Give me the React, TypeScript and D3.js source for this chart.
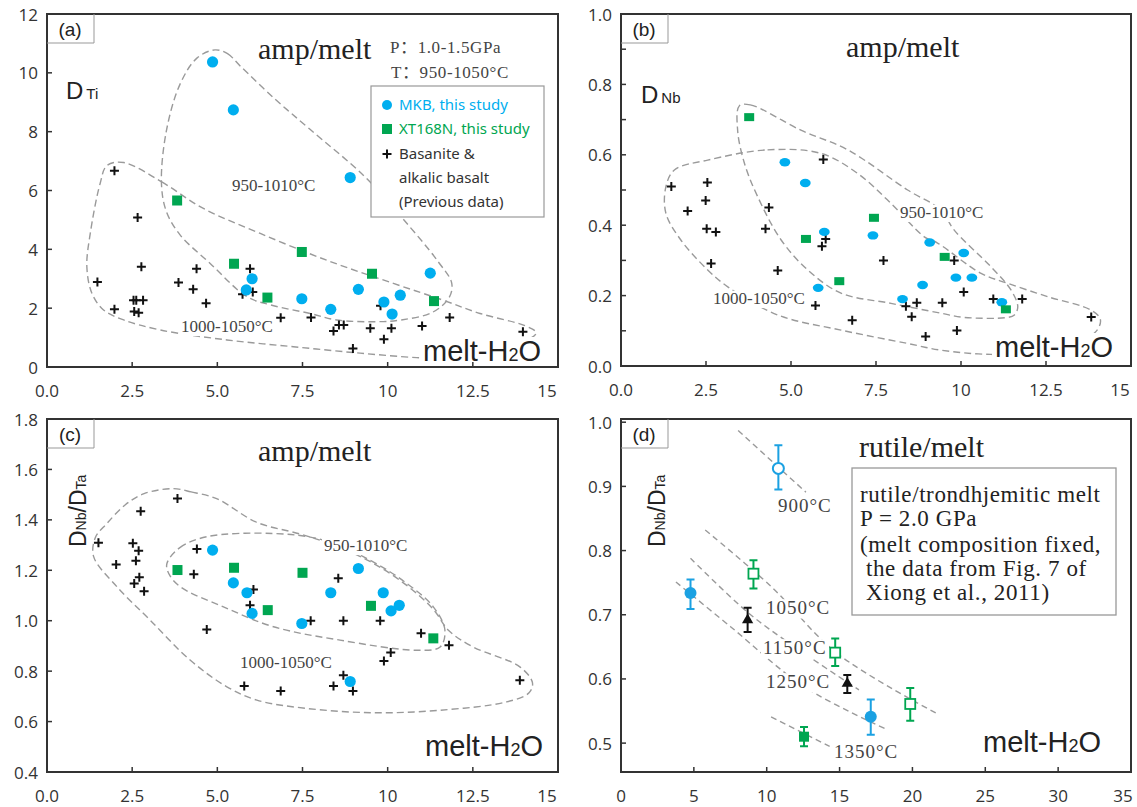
import React from "react";
import * as d3 from "d3";

type Pt = [number, number];
type EPt = [number, number, number, number]; // x, y, hi, lo

// ---------- (a) D_Ti ----------
const aMKB: Pt[] = [[4.86,10.37],[5.47,8.74],[8.90,6.44],[6.02,3.00],[5.85,2.62],[7.48,2.32],[8.33,1.96],[9.14,2.64],[9.89,2.21],[10.13,1.80],[10.37,2.44],[11.25,3.19]];
const aXT: Pt[] = [[3.82,5.66],[5.49,3.51],[6.47,2.36],[7.48,3.91],[9.54,3.17],[11.36,2.24]];
const aPrev: Pt[] = [[1.98,6.67],[2.66,5.08],[2.77,3.41],[1.48,2.89],[1.98,1.96],[2.54,2.27],[2.62,2.27],[2.82,2.27],[2.56,1.89],[2.69,1.84],[3.86,2.87],[4.29,2.64],[4.39,3.34],[4.67,2.17],[5.74,2.47],[5.96,3.34],[6.04,2.55],[6.86,1.67],[7.75,1.68],[8.41,1.22],[8.57,1.43],[8.71,1.43],[8.98,0.63],[9.49,1.32],[9.79,2.08],[9.89,0.94],[10.11,1.32],[11.01,1.39],[11.82,1.68],[13.97,1.20]];
const aEnvHi: Pt[] = [[4.93,10.78],[5.3,10.65],[5.7,10.2],[6.7,9.1],[7.72,8.08],[9.3,6.5],[10.4,5.1],[11.47,3.6],[11.88,2.85],[11.8,2.35],[11.3,1.85],[10.4,1.6],[9.68,1.54],[8.5,1.6],[7.72,1.82],[6.6,2.1],[5.87,2.39],[4.79,3.52],[3.9,4.5],[3.5,5.3],[3.36,6.24],[3.5,8.0],[3.9,9.6],[4.4,10.5]];
const aEnvLo: Pt[] = [[2.25,6.95],[3.37,6.29],[4.59,5.39],[6.26,4.54],[8.21,3.63],[10.17,2.84],[11.63,2.27],[12.71,1.82],[14.04,1.4],[14.36,1.17],[14.2,0.98],[13.0,0.55],[11.5,0.3],[10.85,0.32],[9.19,0.47],[7.23,0.69],[5.28,0.92],[3.32,1.26],[2.25,1.6],[1.66,1.94],[1.32,2.5],[1.17,3.41],[1.27,4.54],[1.56,6.24],[1.76,6.85]];

// ---------- (b) D_Nb ----------
const bMKB: Pt[] = [[4.82,0.579],[5.42,0.520],[5.98,0.381],[7.41,0.371],[9.08,0.351],[10.08,0.321],[9.85,0.251],[10.32,0.251],[8.87,0.230],[5.80,0.222],[8.28,0.190],[11.2,0.181]];
const bXT: Pt[] = [[3.77,0.707],[5.44,0.361],[7.44,0.421],[6.42,0.241],[9.52,0.310],[11.32,0.161]];
const bPrev: Pt[] = [[1.48,0.510],[2.54,0.521],[2.49,0.470],[1.96,0.440],[2.52,0.390],[2.79,0.381],[2.65,0.291],[4.35,0.450],[4.25,0.390],[4.61,0.271],[5.95,0.587],[6.02,0.361],[5.91,0.340],[7.72,0.300],[5.72,0.172],[6.80,0.130],[8.38,0.170],[8.70,0.180],[8.55,0.140],[8.96,0.084],[9.45,0.180],[9.80,0.300],[10.08,0.210],[9.88,0.101],[10.95,0.190],[11.80,0.190],[13.83,0.139]];
const bEnvHi: Pt[] = [[3.48,0.739],[3.8,0.742],[5.29,0.670],[6.67,0.614],[8.43,0.500],[9.41,0.443],[9.8,0.386],[10.88,0.282],[11.47,0.216],[11.67,0.168],[11.57,0.145],[11.37,0.138],[10.1,0.138],[9.41,0.150],[7.94,0.178],[6.47,0.207],[5.49,0.273],[4.71,0.358],[4.02,0.481],[3.63,0.576],[3.43,0.670]];
const bEnvLo: Pt[] = [[2.55,0.585],[4.31,0.614],[5.88,0.604],[6.96,0.547],[7.94,0.462],[8.92,0.367],[9.3,0.35],[10.59,0.263],[11.37,0.235],[12.55,0.197],[13.82,0.159],[14.1,0.132],[13.94,0.095],[12.5,0.04],[10.88,0.033],[9.41,0.045],[8.43,0.064],[6.47,0.102],[4.61,0.145],[3.14,0.225],[2.55,0.273],[1.76,0.358],[1.32,0.434],[1.32,0.509],[1.57,0.557]];

// ---------- (c) D_Nb/D_Ta amp ----------
const cMKB: Pt[] = [[4.86,1.280],[5.47,1.150],[5.87,1.111],[6.02,1.029],[7.48,0.989],[8.33,1.111],[9.14,1.207],[9.87,1.111],[10.10,1.039],[10.34,1.061],[8.90,0.759]];
const cXT: Pt[] = [[3.83,1.201],[5.49,1.210],[7.50,1.190],[6.48,1.042],[9.51,1.059],[11.34,0.930]];
const cPrev: Pt[] = [[1.51,1.309],[2.03,1.223],[2.52,1.307],[2.69,1.277],[2.61,1.238],[2.71,1.172],[2.56,1.148],[2.85,1.117],[2.75,1.434],[3.83,1.485],[4.40,1.284],[4.31,1.184],[4.69,0.965],[6.06,1.124],[5.96,1.061],[7.74,1.0],[8.55,1.168],[8.70,1.0],[9.78,1.0],[10.98,0.950],[11.80,0.903],[10.09,0.874],[9.89,0.840],[8.70,0.784],[8.41,0.741],[5.79,0.741],[6.86,0.721],[8.98,0.721],[13.88,0.764]];
const cEnvHi: Pt[] = [[3.52,1.227],[3.9,1.29],[4.69,1.333],[6.65,1.346],[8.11,1.320],[9.48,1.240],[10.56,1.148],[11.34,1.055],[11.68,0.963],[11.54,0.896],[10.85,0.883],[8.60,0.923],[6.65,0.976],[5.18,1.055],[3.91,1.135],[3.57,1.188]];
const cEnvLo: Pt[] = [[3.7,1.524],[4.23,1.511],[4.98,1.484],[6.16,1.39],[7.4,1.345],[8.2,1.31],[9.48,1.235],[10.56,1.14],[11.34,1.045],[11.8,0.96],[12.51,0.896],[13.88,0.817],[14.25,0.754],[14.15,0.714],[13.49,0.678],[11.54,0.645],[9.58,0.635],[7.63,0.652],[6.16,0.685],[5.28,0.738],[4.20,0.844],[3.03,1.002],[2.05,1.135],[1.37,1.254],[1.42,1.33],[1.76,1.386],[2.3,1.46],[2.85,1.504]];

// ---------- (d) rutile/melt ----------
const dOpenCircle: EPt[] = [[10.80,0.928,0.964,0.895]];
const dBlueCircle: EPt[] = [[4.77,0.734,0.755,0.709],[17.14,0.541,0.568,0.513]];
const dTriangle: EPt[] = [[8.69,0.692,0.711,0.673],[15.53,0.593,0.606,0.578]];
const dOpenSquare: EPt[] = [[9.09,0.764,0.785,0.741],[14.70,0.641,0.663,0.620],[19.85,0.561,0.586,0.535]];
const dFilledSquare: EPt[] = [[12.56,0.510,0.525,0.495]];
const iso900: Pt[] = [[8.04,0.987],[12.69,0.891]];
const iso1050: Pt[] = [[5.78,0.832],[10.30,0.744],[14.82,0.640],[21.6,0.547]];
const iso1150: Pt[] = [[4.77,0.788],[8.79,0.702],[12.56,0.640],[16.33,0.583]];
const iso1250: Pt[] = [[3.77,0.751],[7.54,0.681],[12.56,0.588],[18.09,0.523]];
const iso1350: Pt[] = [[10.30,0.541],[14.32,0.495]];

// ---------- ticks ----------
const xTicksABC = [0, 2.5, 5, 7.5, 10, 12.5, 15];
const xLabelsABC = ["0.0", "2.5", "5.0", "7.5", "10", "12.5", "15"];
const yTicksA = [0, 2, 4, 6, 8, 10, 12];
const yLabelsA = ["0", "2", "4", "6", "8", "10", "12"];
const yTicksB = [0, 0.1, 0.2, 0.3, 0.4, 0.5, 0.6, 0.7, 0.8, 0.9, 1.0];
const yLabelValsB = [0, 0.2, 0.4, 0.6, 0.8, 1.0];
const yLabelsB = ["0.0", "0.2", "0.4", "0.6", "0.8", "1.0"];
const yTicksC = [0.4, 0.6, 0.8, 1.0, 1.2, 1.4, 1.6, 1.8];
const yLabelsC = ["0.4", "0.6", "0.8", "1.0", "1.2", "1.4", "1.6", "1.8"];
const xTicksD = [0, 5, 10, 15, 20, 25, 30, 35];
const xLabelsD = ["0", "5", "10", "15", "20", "25", "30", "35"];
const yTicksD = [0.5, 0.6, 0.7, 0.8, 0.9, 1.0];
const yLabelsD = ["0.5", "0.6", "0.7", "0.8", "0.9", "1.0"];

const SANS = "'Open Sans', 'Liberation Sans', Arial, sans-serif";
const ARIAL = "'Liberation Sans', Arial, sans-serif";
const NOTO = "'Noto Sans', 'Open Sans', sans-serif";
const SERIF = "'Liberation Serif', 'Times New Roman', 'Noto Sans CJK SC', serif";
const BLUE = "#00AEEF";
const GREEN = "#00A651";
const ENV = "#9a9a9a";
const AX = "#333";

type Sc = d3.ScaleLinear<number, number>;

function Frame(props: {
  x: Sc; y: Sc; xTicks: number[]; xLabels: string[]; xLabelVals: number[];
  yTicks: number[]; yLabels: string[]; yLabelVals: number[]; letter: string; lastShift: number;
}) {
  const { x, y, xTicks, xLabels, xLabelVals, yTicks, yLabels, yLabelVals, letter, lastShift } = props;
  const [l, r] = x.range();
  const [b, t] = y.range();
  const xd = x.domain(), yd = y.domain();
  return (
    <g>
      {xTicks.filter(v => v > xd[0] && v < xd[1]).map((v, i) => (
        <line key={"xt" + i} x1={x(v)} x2={x(v)} y1={b} y2={b - 5} stroke={AX} strokeWidth={1.5} />
      ))}
      {yTicks.filter(v => v > yd[0] + 1e-6 && v < yd[1] - 1e-6).map((v, i) => (
        <line key={"yt" + i} x1={l} x2={l + 5} y1={y(v)} y2={y(v)} stroke={AX} strokeWidth={1.5} />
      ))}
      <rect x={l} y={t} width={r - l} height={b - t} fill="none" stroke={AX} strokeWidth={2} />
      {xLabels.map((s, i) => (
        <text key={"xl" + i} x={x(xLabelVals[i]) + (i === xLabels.length - 1 ? lastShift : 0)} y={b + 23}
          textAnchor="middle" dominantBaseline="central" fontFamily={SANS} fontSize={17} fill={AX}>{s}</text>
      ))}
      {yLabels.map((s, i) => (
        <text key={"yl" + i} x={l - 9} y={y(yLabelVals[i])} textAnchor="end" dominantBaseline="central"
          fontFamily={SANS} fontSize={17} fill={AX}>{s}</text>
      ))}
      <path d={`M${l},${t + 29}H${l + 47}V${t}`} fill="none" stroke="#999" strokeWidth={1} />
      <text x={l + 23} y={t + 15} textAnchor="middle" dominantBaseline="central" fontFamily={ARIAL} fontSize={19} fill="#222">{letter}</text>
    </g>
  );
}

function BgText(props: { x: number; y: number; w: number; size: number; font: string; children: any; fill?: string; ls?: number }) {
  const { x, y, w, size, font, children, fill, ls } = props;
  return (
    <g>
      <rect x={x - 2} y={y - size * 0.78} width={w + 4} height={size * 1.02} fill="#fff" />
      <text x={x} y={y} fontFamily={font} fontSize={size} fill={fill || "#444"} letterSpacing={ls || 0}>{children}</text>
    </g>
  );
}

function MeltH2O({ x, y }: { x: number; y: number }) {
  return (
    <g>
      <rect x={x - 3} y={y - 24} width={130} height={30} fill="#fff" />
      <text x={x} y={y} fontFamily={ARIAL} fontSize={29} fill="#222">
        melt-H<tspan fontSize={18}>2</tspan>O
      </text>
    </g>
  );
}

function Cross({ cx, cy }: { cx: number; cy: number }) {
  return <path d={`M${cx - 4.5},${cy}H${cx + 4.5}M${cx},${cy - 4.5}V${cy + 4.5}`} stroke="#111" strokeWidth={2} />;
}

function Scatter({ x, y, prev, mkb, xt, flat }: { x: Sc; y: Sc; prev: Pt[]; mkb: Pt[]; xt: Pt[]; flat?: boolean }) {
  return (
    <g>
      {prev.map((p, i) => <Cross key={"p" + i} cx={x(p[0])} cy={y(p[1])} />)}
      {mkb.map((p, i) => flat
        ? <ellipse key={"m" + i} cx={x(p[0])} cy={y(p[1])} rx={5.4} ry={4.2} fill={BLUE} />
        : <circle key={"m" + i} cx={x(p[0])} cy={y(p[1])} r={5.6} fill={BLUE} />)}
      {xt.map((p, i) => flat
        ? <rect key={"s" + i} x={x(p[0]) - 5} y={y(p[1]) - 4} width={10} height={8} fill={GREEN} />
        : <rect key={"s" + i} x={x(p[0]) - 5} y={y(p[1]) - 5} width={10} height={10} fill={GREEN} />)}
    </g>
  );
}

function Env({ x, y, pts }: { x: Sc; y: Sc; pts: Pt[] }) {
  const gen = d3.line<Pt>().x(p => x(p[0])).y(p => y(p[1])).curve(d3.curveCatmullRomClosed.alpha(0.5));
  return <path d={gen(pts) || ""} fill="none" stroke={ENV} strokeWidth={1.4} strokeDasharray="7,4" />;
}

function Iso({ x, y, pts }: { x: Sc; y: Sc; pts: Pt[] }) {
  const gen = d3.line<Pt>().x(p => x(p[0])).y(p => y(p[1])).curve(d3.curveCatmullRom.alpha(0.5));
  return <path d={gen(pts) || ""} fill="none" stroke={ENV} strokeWidth={1.4} strokeDasharray="6,4" />;
}

function ErrBar({ x, y, p, color }: { x: Sc; y: Sc; p: EPt; color: string }) {
  const cx = x(p[0]);
  return (
    <path d={`M${cx},${y(p[2])}V${y(p[3])}M${cx - 4},${y(p[2])}H${cx + 4}M${cx - 4},${y(p[3])}H${cx + 4}`}
      stroke={color} strokeWidth={2} fill="none" />
  );
}

function RatioLabel({ x, y }: { x: number; y: number }) {
  return (
    <text transform={`translate(${x},${y}) rotate(-90)`} fontFamily={ARIAL} fontSize={23} fill="#222">
      D<tspan fontSize={14}>Nb</tspan>/D<tspan fontSize={14}>Ta</tspan>
    </text>
  );
}

export default function App() {
  const xa = d3.scaleLinear().domain([0, 15]).range([47, 558]);
  const ya = d3.scaleLinear().domain([0, 12]).range([367, 14]);
  const xb = d3.scaleLinear().domain([0, 15]).range([621, 1131]);
  const yb = d3.scaleLinear().domain([0, 1]).range([366, 14]);
  const xc = d3.scaleLinear().domain([0, 15]).range([47, 558]);
  const yc = d3.scaleLinear().domain([0.4, 1.8]).range([772, 419]);
  const xd = d3.scaleLinear().domain([0, 35]).range([621, 1131]);
  const yd = d3.scaleLinear().domain([0.455, 1.005]).range([772, 419]);

  const tri = d3.symbol().type(d3.symbolTriangle).size(55)();

  return (
    <div style={{ position: "absolute", left: 0, top: 0 }}>
      <svg width={1137} height={807} style={{ display: "block", background: "#fff" }}>
        {/* ---------- (a) ---------- */}
        <Env x={xa} y={ya} pts={aEnvHi} />
        <Env x={xa} y={ya} pts={aEnvLo} />
        <Scatter x={xa} y={ya} prev={aPrev} mkb={aMKB} xt={aXT} />
        <text x={258} y={59} fontFamily={SERIF} fontSize={30} fill="#222">amp/melt</text>
        <text x={390} y={53} fontFamily={SERIF} fontSize={17} fill="#444" letterSpacing={0.6}>P：1.0-1.5GPa</text>
        <text x={391} y={78} fontFamily={SERIF} fontSize={17} fill="#444" letterSpacing={0.6}>T：950-1050°C</text>
        <text x={66} y={99} fontFamily={ARIAL} fontSize={24} fill="#222">D<tspan fontSize={15} dx={3}>Ti</tspan></text>
        <BgText x={232} y={191} w={84} size={17} font={SERIF}>950-1010°C</BgText>
        <BgText x={181} y={332} w={92} size={17} font={SERIF}>1000-1050°C</BgText>
        <MeltH2O x={423} y={361} />
        <g>
          <rect x={371} y={86} width={173} height={131} fill="#fff" stroke="#999" strokeWidth={1.2} />
          <circle cx={387} cy={105} r={5} fill={BLUE} />
          <text x={399} y={110} fontFamily={NOTO} fontSize={15} fill={BLUE}>MKB, this study</text>
          <rect x={382} y={124} width={10} height={10} fill={GREEN} />
          <text x={399} y={134} fontFamily={NOTO} fontSize={15} fill={GREEN}>XT168N, this study</text>
          <Cross cx={387} cy={154} />
          <text x={399} y={159} fontFamily={NOTO} fontSize={15} fill="#333">Basanite &amp;</text>
          <text x={399} y={183} fontFamily={NOTO} fontSize={15} fill="#333">alkalic basalt</text>
          <text x={399} y={207} fontFamily={NOTO} fontSize={15} fill="#333">(Previous data)</text>
        </g>
        <Frame x={xa} y={ya} xTicks={xTicksABC} xLabels={xLabelsABC} xLabelVals={xTicksABC}
          yTicks={yTicksA} yLabels={yLabelsA} yLabelVals={yTicksA} letter="(a)" lastShift={-11} />

        {/* ---------- (b) ---------- */}
        <Env x={xb} y={yb} pts={bEnvHi} />
        <Env x={xb} y={yb} pts={bEnvLo} />
        <Scatter x={xb} y={yb} prev={bPrev} mkb={bMKB} xt={bXT} flat />
        <text x={846} y={57} fontFamily={SERIF} fontSize={30} fill="#222">amp/melt</text>
        <text x={641} y={103} fontFamily={ARIAL} fontSize={24} fill="#222">D<tspan fontSize={15} dx={3}>Nb</tspan></text>
        <BgText x={900} y={218} w={84} size={17} font={SERIF}>950-1010°C</BgText>
        <BgText x={713} y={304} w={92} size={17} font={SERIF}>1000-1050°C</BgText>
        <MeltH2O x={995} y={357} />
        <Frame x={xb} y={yb} xTicks={xTicksABC} xLabels={xLabelsABC} xLabelVals={xTicksABC}
          yTicks={yTicksB} yLabels={yLabelsB} yLabelVals={yLabelValsB} letter="(b)" lastShift={-11} />

        {/* ---------- (c) ---------- */}
        <Env x={xc} y={yc} pts={cEnvHi} />
        <Env x={xc} y={yc} pts={cEnvLo} />
        <Scatter x={xc} y={yc} prev={cPrev} mkb={cMKB} xt={cXT} />
        <text x={258} y={461} fontFamily={SERIF} fontSize={30} fill="#222">amp/melt</text>
        <RatioLabel x={86} y={547} />
        <BgText x={324} y={551} w={84} size={17} font={SERIF}>950-1010°C</BgText>
        <BgText x={240} y={668} w={92} size={17} font={SERIF}>1000-1050°C</BgText>
        <MeltH2O x={425} y={756} />
        <Frame x={xc} y={yc} xTicks={xTicksABC} xLabels={xLabelsABC} xLabelVals={xTicksABC}
          yTicks={yTicksC} yLabels={yLabelsC} yLabelVals={yTicksC} letter="(c)" lastShift={-11} />

        {/* ---------- (d) ---------- */}
        <Iso x={xd} y={yd} pts={iso900} />
        <Iso x={xd} y={yd} pts={iso1050} />
        <Iso x={xd} y={yd} pts={iso1150} />
        <Iso x={xd} y={yd} pts={iso1250} />
        <Iso x={xd} y={yd} pts={iso1350} />
        <BgText x={778} y={512} w={54} size={19} font={SERIF} ls={1}>900°C</BgText>
        <BgText x={766} y={614} w={64} size={19} font={SERIF} ls={1}>1050°C</BgText>
        <BgText x={763} y={654} w={64} size={19} font={SERIF} ls={1}>1150°C</BgText>
        <BgText x={766} y={688} w={64} size={19} font={SERIF} ls={1}>1250°C</BgText>
        <BgText x={834} y={758} w={64} size={19} font={SERIF} ls={1}>1350°C</BgText>
        {dOpenCircle.map((p, i) => (
          <g key={"oc" + i}>
            <ErrBar x={xd} y={yd} p={p} color="#1BA1E2" />
            <circle cx={xd(p[0])} cy={yd(p[1])} r={5.5} fill="#fff" stroke="#1BA1E2" strokeWidth={2} />
          </g>
        ))}
        {dBlueCircle.map((p, i) => (
          <g key={"bc" + i}>
            <ErrBar x={xd} y={yd} p={p} color="#1BA1E2" />
            <circle cx={xd(p[0])} cy={yd(p[1])} r={6} fill="#1BA1E2" />
          </g>
        ))}
        {dTriangle.map((p, i) => (
          <g key={"tr" + i}>
            <ErrBar x={xd} y={yd} p={p} color="#111" />
            <path d={tri || ""} transform={`translate(${xd(p[0])},${yd(p[1])})`} fill="#111" />
          </g>
        ))}
        {dOpenSquare.map((p, i) => (
          <g key={"os" + i}>
            <ErrBar x={xd} y={yd} p={p} color={GREEN} />
            <rect x={xd(p[0]) - 5} y={yd(p[1]) - 5} width={10} height={10} fill="#fff" stroke={GREEN} strokeWidth={1.8} />
          </g>
        ))}
        {dFilledSquare.map((p, i) => (
          <g key={"fs" + i}>
            <ErrBar x={xd} y={yd} p={p} color={GREEN} />
            <rect x={xd(p[0]) - 5} y={yd(p[1]) - 5} width={10} height={10} fill={GREEN} />
          </g>
        ))}
        <text x={859} y={457} fontFamily={SERIF} fontSize={30} fill="#222">rutile/melt</text>
        <RatioLabel x={665} y={547} />
        <g>
          <rect x={852} y={468} width={264} height={147} fill="#fff" stroke="#999" strokeWidth={1.3} />
          <text x={860} y={502} fontFamily={SERIF} fontSize={23} fill="#222" letterSpacing={0.6}>rutile/trondhjemitic melt</text>
          <text x={860} y={526} fontFamily={SERIF} fontSize={23} fill="#222" letterSpacing={0.6}>P = 2.0 GPa</text>
          <text x={860} y={552} fontFamily={SERIF} fontSize={23} fill="#222" letterSpacing={0.6}>(melt composition fixed,</text>
          <text x={866} y={576} fontFamily={SERIF} fontSize={23} fill="#222" letterSpacing={0.6}>the data from Fig. 7 of</text>
          <text x={866} y={600} fontFamily={SERIF} fontSize={23} fill="#222" letterSpacing={0.6}>Xiong et al., 2011)</text>
        </g>
        <MeltH2O x={983} y={752} />
        <Frame x={xd} y={yd} xTicks={xTicksD} xLabels={xLabelsD} xLabelVals={xTicksD}
          yTicks={yTicksD} yLabels={yLabelsD} yLabelVals={yTicksD} letter="(d)" lastShift={-8} />
      </svg>
    </div>
  );
}
